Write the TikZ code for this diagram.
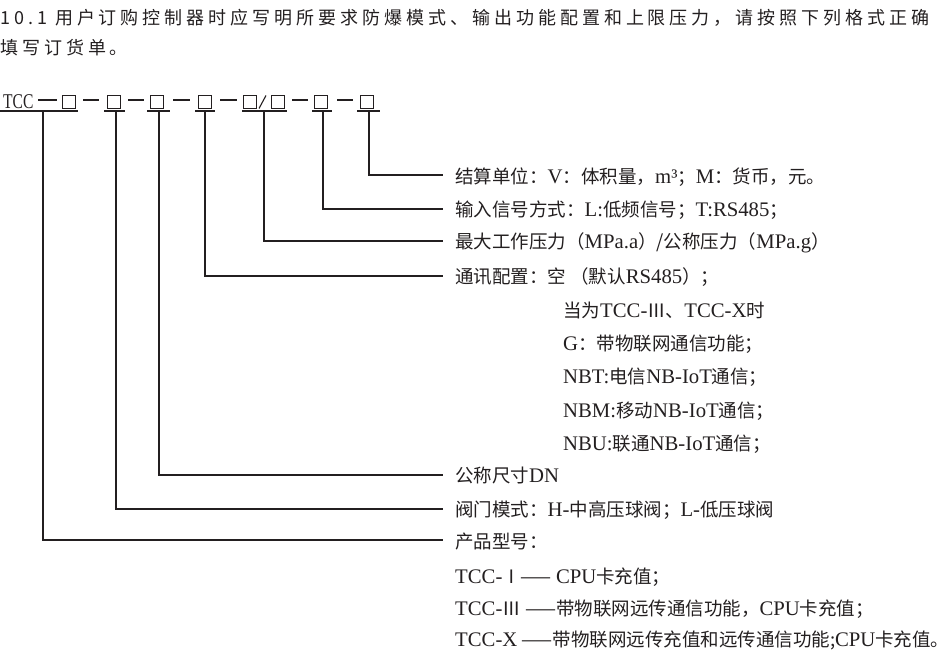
\documentclass[tikz,border=0pt]{standalone}
\usepackage{fontspec}
\setmainfont{Noto Sans CJK SC}
\newfontfamily\lat[Scale=1.12]{Liberation Serif}
\newfontfamily\latcode{Liberation Serif}
\newcommand{\E}[1]{{\lat #1}}
\definecolor{ink}{HTML}{231F20}
\begin{document}
\begin{tikzpicture}[x=1pt,y=-1pt,
  every node/.style={inner sep=0pt, text=ink},
  ln/.style={draw=ink, line width=1.1pt},
  lbl/.style={anchor=west, font=\fontsize{18.5}{18.5}\selectfont},
  boxn/.style={draw=ink, line width=1pt, minimum width=13pt, minimum height=13pt},
  head/.style={anchor=west, font=\fontsize{18}{18}\selectfont\addfontfeature{LetterSpace=22}}]
\useasboundingbox (0,0) rectangle (950,650);

% header
\node[head] (h1) at (0,18) {10.1 用户订购控制器时应写明所要求防爆模式、输出功能配置和上限压力，请按照下列格式正确};
\node[head] (h2) at (0,48) {填写订货单。};

% code row
\node[anchor=base west, font=\latcode\fontsize{21}{21}\selectfont, xscale=0.74, transform shape] (tcc) at (3,108.5) {TCC};
\node[boxn] (b1) at (69,102) {};
\node[boxn] (b2) at (114,102) {};
\node[boxn] (b3) at (157,102) {};
\node[boxn] (b4) at (205,102) {};
\node[boxn] (b5) at (250,102) {};
\node[boxn] (b6) at (278,102) {};
\node[boxn] (b7) at (321,102) {};
\node[boxn] (b8) at (367,102) {};
\draw[ln] (259,108.5) -- (266,95.5);
\foreach \a/\b in {38/57,83/99,128/144,173/190,220/237,292/308,337/353}
  \draw[ln] (\a,100) -- (\b,100);

% underlines
\draw[ln] (0,111) -- (78,111);
\draw[ln] (104,111) -- (125,111);
\draw[ln] (147,111) -- (170,111);
\draw[ln] (195,111) -- (215,111);
\draw[ln] (242,111) -- (287,111);
\draw[ln] (312,111) -- (332,111);
\draw[ln] (357,111) -- (380,111);
\coordinate (u0) at (43,111);
\coordinate (u1) at (116,111);
\coordinate (u2) at (159,111);
\coordinate (u3) at (205,111);
\coordinate (u4) at (264,111);
\coordinate (u5) at (323,111);
\coordinate (u6) at (369,111);

% line ends
\coordinate (r6) at (443,175);
\coordinate (r5) at (443,209);
\coordinate (r4) at (443,241);
\coordinate (r3) at (443,276);
\coordinate (r2) at (443,475);
\coordinate (r1) at (443,509);
\coordinate (r0) at (443,540);

% labels
\node[lbl] (t1) at (455,177) {结算单位：\E{V}：体积量，\E{m³}；\E{M}：货币，元。};
\node[lbl] (t2) at (455,210) {输入信号方式：\E{L:}低频信号；\E{T:RS485}；};
\node[lbl] (t3) at (455,243) {最大工作压力（\E{MPa.a}）/公称压力（\E{MPa.g}）};
\node[lbl] (t4) at (455,277) {通讯配置：空 （默认\E{RS485}）；};
\node[lbl] (t5) at (563,310) {当为\E{TCC-}Ⅲ、\E{TCC-X}时};
\node[lbl] (t6) at (563,344) {\E{G}：带物联网通信功能；};
\node[lbl] (t7) at (563,377) {\E{NBT:}电信\E{NB-IoT}通信；};
\node[lbl] (t8) at (563,411) {\E{NBM:}移动\E{NB-IoT}通信；};
\node[lbl] (t9) at (563,444) {\E{NBU:}联通\E{NB-IoT}通信；};
\node[lbl] (t10) at (455,476) {公称尺寸\E{DN}};
\node[lbl] (t11) at (455,510) {阀门模式：\E{H-}中高压球阀；\E{L-}低压球阀};
\node[lbl] (t12) at (455,542) {产品型号：};
\node[lbl] (t13) at (455,577) {\E{TCC-}Ⅰ—— \E{CPU}卡充值；};
\node[lbl] (t14) at (455,609) {\E{TCC-}Ⅲ ——带物联网远传通信功能，\E{CPU}卡充值；};
\node[lbl] (t15) at (455,640) {\E{TCC-X} ——带物联网远传充值和远传通信功能;\E{CPU}卡充值。};

% connectors
\draw[ln] (u6) |- (r6);
\draw[ln] (u5) |- (r5);
\draw[ln] (u4) |- (r4);
\draw[ln] (u3) |- (r3);
\draw[ln] (u2) |- (r2);
\draw[ln] (u1) |- (r1);
\draw[ln] (u0) |- (r0);
\end{tikzpicture}
\end{document}
